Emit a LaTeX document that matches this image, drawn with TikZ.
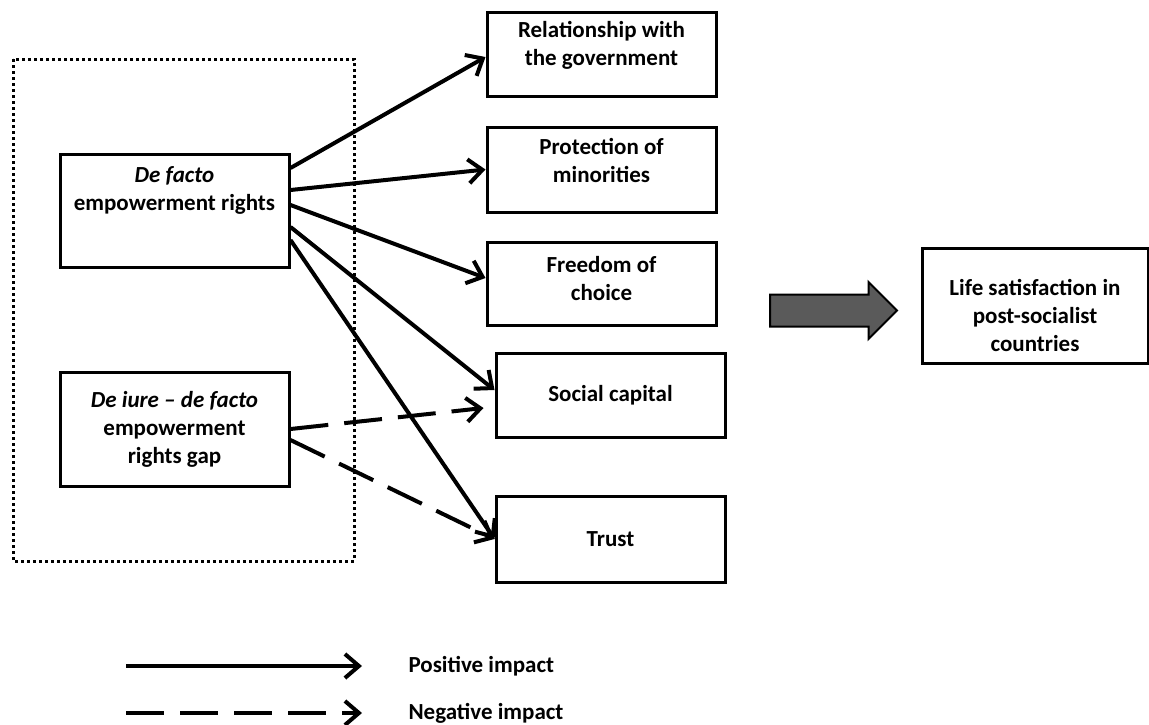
\documentclass[tikz,border=0pt]{standalone}
\usepackage{fontspec}
\setmainfont{Carlito}
\usetikzlibrary{arrows.meta,shapes.arrows}
\definecolor{arrowgray}{HTML}{5A5A5A}
\begin{document}
\begin{tikzpicture}[x=1pt,y=-1pt,
  font=\fontsize{23}{28}\selectfont\bfseries,
  box/.style={draw,line width=3pt,inner sep=0pt,align=center,minimum width=229pt,minimum height=84pt},
  posarrow/.style={line width=4pt,-{Straight Barb[length=14pt,width=24pt]}},
  negarrow/.style={posarrow,dash pattern=on 38pt off 16pt},
  group/.style={line width=3pt,dash pattern=on 3pt off 3pt}]
\useasboundingbox (0,0) rectangle (1149,724);
\draw[group] (13,59) rectangle (354,561);
\node[box,minimum height=113pt] (facto) at (174.5,210.5) {\textit{De facto}\\empowerment rights\\[16pt]\mbox{}};
\node[box,minimum height=114pt] (iure) at (174.5,429) {\textit{De iure -- de facto}\\empowerment\\rights gap};
\node[box] (rel) at (601.5,54) {Relationship with\\the government\\[-7.5pt]\mbox{}};
\node[box,minimum height=85pt] (prot) at (601.5,169.5) {Protection of\\minorities\\[-10.5pt]\mbox{}};
\node[box,minimum height=83pt] (free) at (601.5,283.5) {Freedom of\\choice\\[-18pt]\mbox{}};
\node[box] (social) at (610.5,395) {Social capital};
\node[box,minimum height=86pt] (trust) at (610.5,539) {Trust};
\node[box,minimum width=226pt,minimum height=115pt] (life) at (1035,305.5) {\mbox{}\\[8.5pt]Life satisfaction in\\post-socialist\\countries};
\node[draw,fill=arrowgray,line width=2pt,shape=single arrow,minimum height=127pt,minimum width=55pt,single arrow head extend=12.5pt,inner xsep=0pt,inner ysep=15pt] (push) at (825.5,310.5) {};
\draw[posarrow] ([yshift=42.5pt]facto.east) -- ([yshift=-3pt]rel.west);
\draw[posarrow] ([yshift=20.5pt]facto.east) -- (prot.west);
\draw[posarrow] ([yshift=5.5pt]facto.east) -- ([yshift=5.5pt]free.west);
\draw[posarrow] ([yshift=-16.5pt]facto.east) -- ([yshift=5pt]social.west);
\draw[posarrow] ([yshift=-29.5pt]facto.east) -- (trust.west);
\draw[negarrow] (iure.east) -- ([xshift=-11pt,yshift=-13pt]social.west);
\draw[negarrow] ([yshift=-11pt]iure.east) -- (trust.west);
\coordinate (pa) at (126,666);
\coordinate (pb) at (362,666);
\coordinate (na) at (126,713);
\coordinate (nb) at (362,713);
\draw[posarrow] (pa) -- (pb);
\draw[negarrow] (na) -- (nb);
\node[anchor=west] (postext) at (405,666) {Positive impact};
\node[anchor=west] (negtext) at (405,713) {Negative impact};
\end{tikzpicture}
\end{document}
